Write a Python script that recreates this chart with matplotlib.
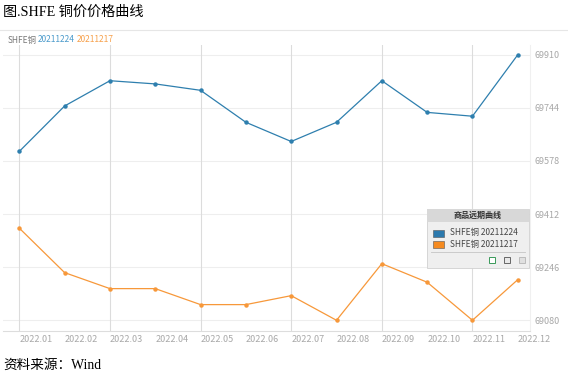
import matplotlib.pyplot as plt
from matplotlib.patches import Rectangle
from matplotlib.lines import Line2D

plt.rcParams['font.family'] = ['Noto Sans CJK SC', 'DejaVu Sans']

# 合约月份与两条远期曲线
months = ['2022.01', '2022.02', '2022.03', '2022.04', '2022.05', '2022.06',
          '2022.07', '2022.08', '2022.09', '2022.10', '2022.11', '2022.12']
curve_1224 = [69608, 69750, 69829, 69819, 69799, 69699,
              69639, 69699, 69829, 69730, 69718, 69910]
curve_1217 = [69368, 69229, 69179, 69179, 69129, 69129,
              69157, 69080, 69257, 69199, 69080, 69207]
y_ticks = [69080, 69246, 69412, 69578, 69744, 69910]
series_names = ['SHFE铜 20211224', 'SHFE铜 20211217']

BLUE = '#2e7fae'
ORANGE = '#f7983a'
GREY = '#a8a8a8'

W, H = 568, 379
fig = plt.figure(figsize=(W / 100, H / 100), dpi=100)
ax = fig.add_axes([3 / W, 1 - 331 / H, 527 / W, (331 - 44.7) / H])

x = list(range(len(months)))
ax.plot(x, curve_1224, color=BLUE, lw=0.9, marker='o', ms=2.2, zorder=3)
ax.plot(x, curve_1217, color=ORANGE, lw=0.9, marker='o', ms=2.2, zorder=3)

ax.set_xlim(-0.36, 11.27)
ax.set_ylim(69046.5, 69941.6)

# 网格
for v in y_ticks:
    ax.axhline(v, color='#eeeeee', lw=0.8, zorder=0)
for i in range(0, 12, 2):
    ax.axvline(i, color='#dcdcdc', lw=0.8, zorder=0)

ax.yaxis.tick_right()
ax.set_yticks(y_ticks)
ax.set_yticklabels([str(v) for v in y_ticks], color=GREY, fontsize=6.5)
ax.tick_params(axis='y', length=0, pad=3)
ax.set_xticks(x)
ax.set_xticklabels(months, color=GREY, fontsize=6.5, ha='left')
ax.tick_params(axis='x', length=0, pad=3)

for s in ['top', 'left']:
    ax.spines[s].set_visible(False)
ax.spines['bottom'].set_color('#dddddd')
ax.spines['right'].set_color('#f0f0f0')

# 标题与来源
fig.text(3 / W, 1 - 12 / H, '图.SHFE 铜价价格曲线', fontsize=10.2, va='center',
         family=['Liberation Serif', 'Noto Sans CJK SC'])
fig.add_artist(Line2D([0, 1], [1 - 30 / H, 1 - 30 / H], color='#e6e6e6', lw=0.8))
fig.text(3 / W, 1 - 365 / H, '资料来源：Wind', fontsize=9.8, va='center',
         family=['Liberation Serif', 'Noto Sans CJK SC'])

# 顶部图例文字
fig.text(8 / W, 1 - 40 / H, 'SHFE铜', fontsize=6, color='#777777', va='center')
fig.text(38 / W, 1 - 40 / H, '20211224', fontsize=6, color='#4a9acb', va='center')
fig.text(77 / W, 1 - 40 / H, '20211217', fontsize=6, color='#f7a04a', va='center')

# 右侧浮动图例框
def px(x0, y0, w, h):
    return (x0 / W, 1 - (y0 + h) / H), w / W, h / H

xy, w, h = px(427, 209, 102, 59)
fig.add_artist(Rectangle(xy, w, h, facecolor='#efefef', edgecolor='#d0d0d0', lw=0.6, zorder=5))
xy, w, h = px(427, 209, 102, 13)
fig.add_artist(Rectangle(xy, w, h, facecolor='#d8d8d8', edgecolor='none', zorder=6))
fig.text(478 / W, 1 - 215.5 / H, '商品远期曲线', fontsize=5.8, ha='center', va='center',
         color='#333333', zorder=7, fontweight='bold')

for k, (name, c) in enumerate(zip(series_names, ['#2b79ad', '#f58a1f'])):
    yc = 233 + k * 11
    xy, w, h = px(433, yc - 3.5, 11, 7)
    fig.add_artist(Rectangle(xy, w, h, facecolor=c, edgecolor='#555555', lw=0.4, zorder=7))
    fig.text(450 / W, 1 - yc / H, name, fontsize=6, color='#444444', va='center', zorder=7)

fig.add_artist(Line2D([431 / W, 525 / W], [1 - 252 / H, 1 - 252 / H], color='#c4c4c4', lw=0.6, zorder=7))

for xi, fc, ec in [(492, '#ffffff', '#3a9a5a'), (507, '#e8e8e8', '#666666'), (522, '#e0e0e0', '#bbbbbb')]:
    xy, w, h = px(xi - 3, 257, 6, 6)
    fig.add_artist(Rectangle(xy, w, h, facecolor=fc, edgecolor=ec, lw=0.7, zorder=7))

fig.savefig('out.png', dpi=100)
plt.close()
